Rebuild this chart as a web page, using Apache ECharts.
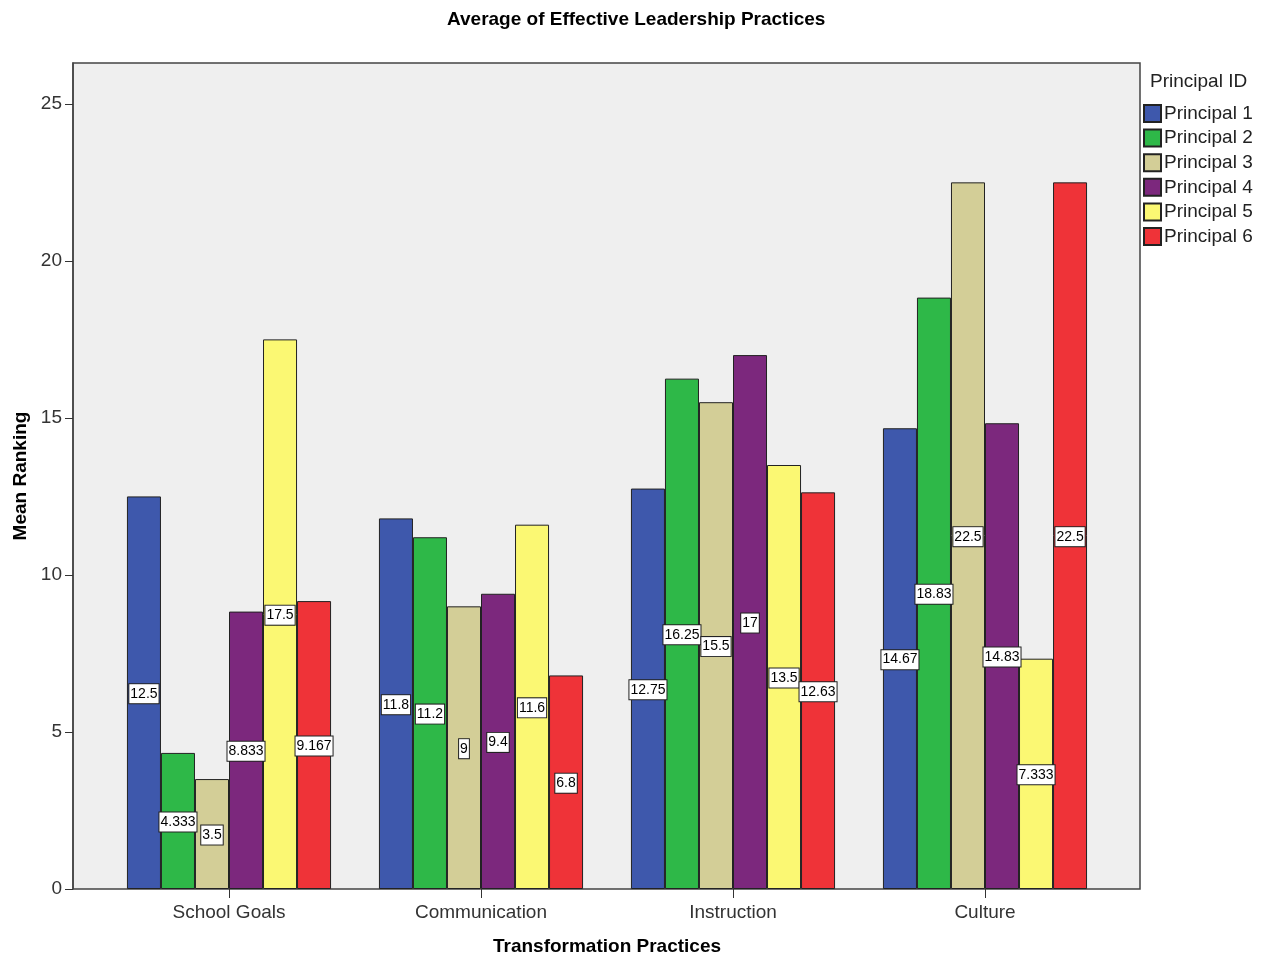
<!DOCTYPE html>
<html><head><meta charset="utf-8">
<script src="https://cdn.jsdelivr.net/npm/echarts@6/dist/echarts.min.js"></script>
<style>html,body{margin:0;padding:0;background:#fff}#c{width:1265px;height:959px}</style>
</head><body><div id="c"></div>
<script>
const categories = ['School Goals', 'Communication', 'Instruction', 'Culture'];
const seriesNames = ['Principal 1', 'Principal 2', 'Principal 3', 'Principal 4', 'Principal 5', 'Principal 6'];
const principal1 = [12.5, 11.8, 12.75, 14.67];
const principal2 = [4.333, 11.2, 16.25, 18.83];
const principal3 = [3.5, 9, 15.5, 22.5];
const principal4 = [8.833, 9.4, 17, 14.83];
const principal5 = [17.5, 11.6, 13.5, 7.333];
const principal6 = [9.167, 6.8, 12.63, 22.5];
const yTicks = [0, 5, 10, 15, 20, 25];
const colors = ['#3E58AC', '#2EB848', '#D3CE97', '#7C287D', '#FBF873', '#EF3338'];
const allData = [principal1, principal2, principal3, principal4, principal5, principal6];

const FONT = 'Arial, "Liberation Sans", sans-serif';
const chart = echarts.init(document.getElementById('c'));
chart.setOption({
  animation: false,
  textStyle: { fontFamily: FONT },
  title: [
    { text: 'Average of Effective Leadership Practices', left: 442, top: 5,
      textStyle: { fontSize: 19, fontWeight: 'bold', color: '#000', fontFamily: FONT } },
    { text: 'Principal ID', left: 1145, top: 67,
      textStyle: { fontSize: 19, fontWeight: 'normal', color: '#222', fontFamily: FONT } }
  ],
  legend: {
    orient: 'vertical', left: 1143, top: 104, padding: 0, itemWidth: 17, itemHeight: 17, itemGap: 5.6,
    icon: 'rect', data: seriesNames,
    textStyle: { fontSize: 19, color: '#222', fontFamily: FONT, padding: [0, 0, 0, -2] }
  },
  grid: [
    { left: 103, right: 154, top: 63, bottom: 70, containLabel: false, outerBoundsMode: 'none' },
    { left: 73, right: 125, top: 63, bottom: 70, show: true, backgroundColor: '#EFEFEF',
      borderColor: '#444', borderWidth: 1.5, z: 0, outerBoundsMode: 'none' }
  ],
  xAxis: [
    { type: 'category', data: categories, gridIndex: 0,
      axisLine: { show: false },
      axisTick: { show: true, alignWithLabel: true, length: 9, inside: false, lineStyle: { color: '#333' } },
      axisLabel: { fontSize: 19, color: '#333', margin: 14, fontFamily: FONT },
      name: 'Transformation Practices', nameLocation: 'middle', nameGap: 48,
      nameTextStyle: { fontSize: 19, fontWeight: 'bold', color: '#000', fontFamily: FONT } },
    { type: 'value', gridIndex: 1, show: false }
  ],
  yAxis: [
    { type: 'value', gridIndex: 0, min: 0, max: 26.3, interval: 5, offset: 30,
      axisLine: { show: true, lineStyle: { color: '#444', width: 1.5 } },
      axisTick: { show: true, length: 8, customValues: yTicks, lineStyle: { color: '#333' } },
      axisLabel: { fontSize: 19, color: '#333', margin: 11, customValues: yTicks, fontFamily: FONT,
        padding: [6, 0, 0, 0] },
      splitLine: { show: false },
      name: 'Mean Ranking', nameLocation: 'middle', nameGap: 43, nameRotate: 90,
      nameTextStyle: { fontSize: 19, fontWeight: 'bold', color: '#000', fontFamily: FONT } },
    { type: 'value', gridIndex: 1, show: false }
  ],
  series: seriesNames.map((n, i) => ({
    name: n, type: 'bar', xAxisIndex: 0, yAxisIndex: 0, data: allData[i],
    barGap: '0%', barCategoryGap: '19%', z: 2,
    itemStyle: { color: colors[i], borderColor: '#222', borderWidth: 1 },
    label: {
      show: true, position: 'inside', offset: [0, 1], color: '#000', fontSize: 14, fontFamily: FONT,
      backgroundColor: '#fff', borderColor: '#222', borderWidth: 1, padding: [3, 1, 2, 1],
      formatter: p => String(p.value)
    }
  }))
});
</script></body></html>
